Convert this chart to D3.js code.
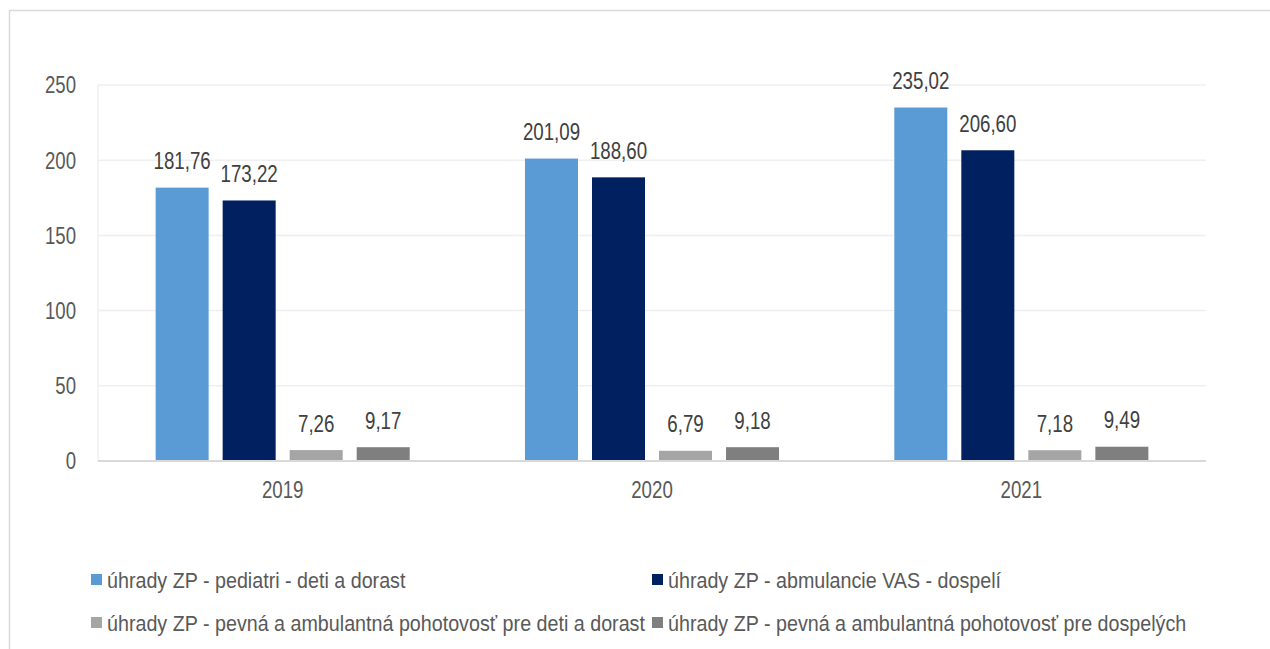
<!DOCTYPE html>
<html><head><meta charset="utf-8">
<script src="https://cdn.jsdelivr.net/npm/d3@7"></script>
<style>body{margin:0;background:#fff;}svg{display:block;font-family:"Liberation Sans",Arial,sans-serif;}</style>
</head><body>
<svg id="c" width="1270" height="649"></svg>
<script>
const categories = ["2019","2020","2021"];
const seriesNames = [
  "úhrady ZP - pediatri - deti a dorast",
  "úhrady ZP - abmulancie VAS - dospelí",
  "úhrady ZP - pevná a ambulantná pohotovosť pre deti a dorast",
  "úhrady ZP - pevná a ambulantná pohotovosť pre dospelých"
];
const pediatri = [181.76, 201.09, 235.02];
const vasDospeli = [173.22, 188.60, 206.60];
const pohotovostDeti = [7.26, 6.79, 7.18];
const pohotovostDospeli = [9.17, 9.18, 9.49];
const yTicks = [0, 50, 100, 150, 200, 250];
const colors = ["#5B9BD5", "#002060", "#A5A5A5", "#7F7F7F"];

const seriesValues = [pediatri, vasDospeli, pohotovostDeti, pohotovostDospeli];
const svg = d3.select("#c");
const fmt = v => v.toFixed(2).replace(".", ",");

// frame
svg.append("rect").attr("x", 9.5).attr("y", 10.5).attr("width", 1300).attr("height", 700)
  .attr("fill", "none").attr("stroke", "#d9d9d9").attr("stroke-width", 1.5);

const pLeft = 98, pRight = 1206, pTop = 85, pBottom = 461;
const x0 = d3.scaleBand().domain(categories).range([pLeft, pRight]).padding(0);
const x1 = d3.scaleBand().domain(d3.range(4)).range([0, x0.bandwidth()]).paddingInner(0.209).paddingOuter(0.86);
const y = d3.scaleLinear().domain([0, 250]).range([pBottom, pTop]);

// gridlines
svg.append("g").selectAll("line").data(yTicks.filter(d => d > 0)).join("line")
  .attr("x1", pLeft).attr("x2", pRight).attr("y1", d => y(d)).attr("y2", d => y(d))
  .attr("stroke", "#efefef").attr("stroke-width", 1.5);
svg.append("line").attr("x1", pLeft).attr("x2", pLeft).attr("y1", pTop).attr("y2", pBottom)
  .attr("stroke", "#efefef").attr("stroke-width", 1.5);

function txt(g, x, yy, s, size, sy, anchor, fill) {
  return g.append("text").attr("transform", `translate(${x},${yy}) scale(1,${sy})`)
    .attr("text-anchor", anchor).attr("font-size", size).attr("fill", fill).text(s);
}

// y tick labels
const yg = svg.append("g");
yTicks.forEach(t => txt(yg, 76, y(t) + 8.3, String(t), 18.6, 1.25, "end", "#595959"));

// bars
const bg = svg.append("g");
categories.forEach((c, ci) => {
  seriesValues.forEach((vals, si) => {
    const v = vals[ci];
    const bx = x0(c) + x1(si);
    bg.append("rect").attr("x", bx).attr("y", y(v)).attr("width", x1.bandwidth())
      .attr("height", y(0) - y(v)).attr("fill", colors[si]);
    txt(bg, bx + x1.bandwidth() / 2, y(v) - 18.5, fmt(v), 18.7, 1.28, "middle", "#404040");
  });
});

// baseline
svg.append("line").attr("x1", pLeft).attr("x2", pRight).attr("y1", pBottom).attr("y2", pBottom)
  .attr("stroke", "#d9d9d9").attr("stroke-width", 2);

// x labels
const xg = svg.append("g");
categories.forEach(c => txt(xg, x0(c) + x0.bandwidth() / 2, 498.3, c, 18.7, 1.25, "middle", "#595959"));

// legend
const lg = svg.append("g");
const legPos = [[91, 588], [652, 588], [91, 631], [652, 631]];
seriesNames.forEach((n, i) => {
  const [lx, ly] = legPos[i];
  lg.append("rect").attr("x", lx).attr("y", ly - 14).attr("width", 11).attr("height", 11).attr("fill", colors[i]);
  txt(lg, lx + 16, ly, n, 19.7, 1.15, "start", "#595959");
});
</script>
</body></html>
